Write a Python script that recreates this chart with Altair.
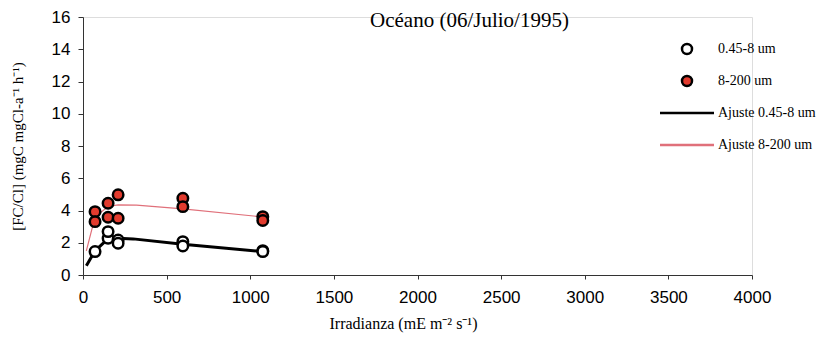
import altair as alt
import pandas as pd

# ---- data ----
series_names = ["0.45-8 um", "8-200 um", "Ajuste 0.45-8 um", "Ajuste 8-200 um"]

small_x = [72, 150, 150, 210, 210, 597, 597, 1075, 1075]
small_y = [1.45, 2.28, 2.69, 2.17, 1.97, 2.07, 1.80, 1.51, 1.45]

large_x = [72, 72, 150, 150, 210, 210, 597, 597, 1075, 1075]
large_y = [3.93, 3.31, 4.45, 3.58, 4.97, 3.52, 4.76, 4.24, 3.62, 3.38]

fit_small_x = [20, 72, 150, 210, 300, 597, 1075]
fit_small_y = [0.58, 1.50, 2.25, 2.28, 2.24, 1.90, 1.45]

fit_large_x = [20, 72, 150, 210, 320, 597, 1075]
fit_large_y = [1.50, 3.60, 4.25, 4.35, 4.33, 4.10, 3.60]

x_ticks = [0, 500, 1000, 1500, 2000, 2500, 3000, 3500, 4000]
y_ticks = [0, 2, 4, 6, 8, 10, 12, 14, 16]

title_text = "Océano (06/Julio/1995)"
x_title = "Irradianza (mE m⁻² s⁻¹)"
y_title = "[FC/Cl] (mgC mgCl-a⁻¹ h⁻¹)"

# ---- tables ----
points = pd.DataFrame(
    {"x": small_x + large_x,
     "y": small_y + large_y,
     "series": [series_names[0]] * len(small_x) + [series_names[1]] * len(large_x)}
)
fit_small = pd.DataFrame({"x": fit_small_x, "y": fit_small_y,
                          "series": series_names[2], "order": range(len(fit_small_x))})
fit_large = pd.DataFrame({"x": fit_large_x, "y": fit_large_y,
                          "series": series_names[3], "order": range(len(fit_large_x))})

serif = "Liberation Serif"
sans = "Liberation Sans"

legend = alt.Legend(
    title=None, orient="none", legendX=597, legendY=25,
    labelFont=serif, labelFontSize=14, labelColor="black",
    labelOffset=24, rowPadding=12, padding=0, symbolSize=100, gridAlign="all",
)

x_axis = alt.Axis(values=x_ticks, format="d", title=x_title, grid=False,
                  labelFont=sans, labelFontSize=17, labelColor="black", labelOverlap=False,
                  titleFont=serif, titleFontSize=16, titleFontWeight="normal",
                  titleColor="black", titleX=320, tickSize=4, labelPadding=10, titlePadding=10,
                  domainColor="#333", tickColor="#333", labelFlush=False)
y_axis = alt.Axis(values=y_ticks, format="d", title=y_title, grid=False,
                  labelFont=sans, labelFontSize=17, labelColor="black", labelOverlap=False,
                  titleFont=serif, titleFontSize=15, titleFontWeight="normal",
                  titleColor="black", tickSize=5, labelPadding=8, titlePadding=26,
                  domainColor="#333", tickColor="#333")

x_enc = alt.X("x:Q", scale=alt.Scale(domain=[0, 4000], nice=False), axis=x_axis)
y_enc = alt.Y("y:Q", scale=alt.Scale(domain=[0, 16], nice=False), axis=y_axis)

stroke_scale = alt.Scale(domain=series_names, range=["black", "black", "black", "#e0707a"])

pts = alt.Chart(points).mark_point(filled=True, opacity=1, size=110).encode(
    x=x_enc, y=y_enc,
    shape=alt.Shape("series:N", scale=alt.Scale(domain=series_names,
                    range=["circle", "circle", "M-5.4,0H5.4", "M-5.4,0H5.4"]), legend=legend),
    fill=alt.Fill("series:N", scale=alt.Scale(domain=series_names,
                  range=["white", "#e23b2e", "black", "#e0707a"]), legend=legend),
    stroke=alt.Stroke("series:N", scale=stroke_scale, legend=legend),
    strokeWidth=alt.StrokeWidth("series:N", scale=alt.Scale(domain=series_names,
                                range=[2.5, 2.5, 3, 1.2]), legend=legend),
)

line_small = alt.Chart(fit_small).mark_line(strokeWidth=3).encode(
    x=x_enc, y=y_enc, order="order:Q",
    stroke=alt.Stroke("series:N", scale=stroke_scale, legend=legend),
)
line_large = alt.Chart(fit_large).mark_line(strokeWidth=1.2).encode(
    x=x_enc, y=y_enc, order="order:Q",
    stroke=alt.Stroke("series:N", scale=stroke_scale, legend=legend),
)

chart = alt.layer(line_small, line_large, pts).properties(
    width=669, height=258,
    title=alt.TitleParams(title_text, font=serif, fontSize=21, fontWeight="normal",
                          color="black", anchor="middle", dx=52, dy=27),
    autosize=alt.AutoSizeParams(type="none"),
    padding={"left": 75, "top": 9, "right": 71, "bottom": 61},
).configure_view(stroke=None).configure(background="white")

chart.save("out.html", embed_options={"renderer": "svg", "actions": False})
